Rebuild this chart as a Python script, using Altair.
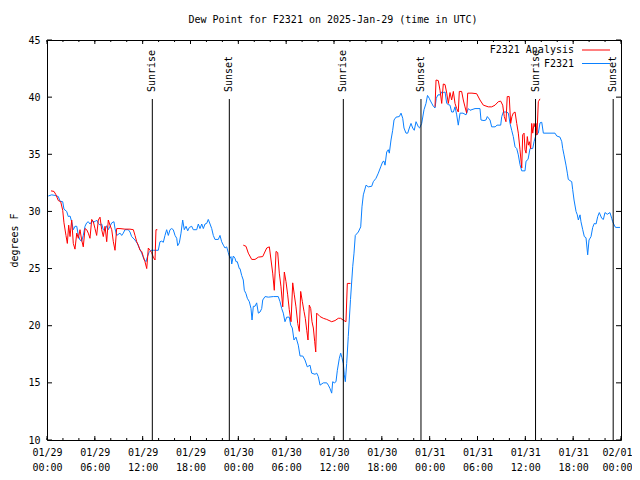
import altair as alt
import pandas as pd

# ---------------- data (hours since 2025-01-29 00:00 UTC, dew point in F) -------------
blue_series = [
    (0.16, 31.35), (0.59, 31.45), (1.0, 31.4), (1.42, 31.3), (1.63, 30.9), (1.97, 30.85),
    (2.13, 30.2), (2.47, 30.0), (2.67, 29.55), (2.89, 29.6), (3.10, 29.1), (3.30, 28.4),
    (3.51, 28.7), (3.73, 28.7), (3.93, 27.9), (4.14, 27.5), (4.35, 27.4), (4.55, 27.9),
    (4.77, 28.7), (4.98, 29.0), (5.18, 29.1), (5.39, 28.9), (5.61, 29.1), (6.02, 29.1),
    (6.23, 29.25), (6.44, 28.95), (6.65, 28.8), (6.86, 28.9), (7.06, 28.4), (7.28, 28.35),
    (7.49, 28.75), (7.69, 28.4), (7.90, 28.7), (8.12, 29.0), (8.40, 29.1), (8.53, 28.5),
    (8.74, 27.9), (9.16, 28.1), (9.37, 27.9), (9.57, 28.1), (9.78, 28.4), (10.20, 28.4),
    (10.41, 28.2), (10.62, 27.8), (11.04, 27.5), (11.33, 27.2), (11.58, 26.8), (11.88, 26.35),
    (12.17, 25.8), (12.42, 25.6), (12.58, 26.0), (12.79, 26.4), (13.05, 26.6), (13.33, 26.6),
    (13.96, 26.6), (14.17, 27.35), (14.39, 27.4), (14.59, 27.3), (14.80, 27.9), (15.01, 28.4),
    (15.22, 27.9), (15.43, 28.4), (15.64, 28.5), (15.84, 28.4), (16.06, 27.9), (16.27, 27.65),
    (16.39, 27.0), (16.60, 27.25), (16.81, 28.1), (17.02, 29.25), (17.22, 28.4), (17.44, 28.7),
    (17.65, 28.3), (17.85, 28.6), (18.15, 28.7), (18.35, 28.4), (18.78, 28.4), (18.98, 28.9),
    (19.19, 28.5), (19.41, 28.9), (19.61, 28.5), (19.82, 28.9), (20.03, 28.95), (20.23, 29.3),
    (20.45, 28.9), (20.66, 28.5), (20.86, 27.9), (21.07, 27.55), (21.49, 27.55), (21.70, 27.9),
    (21.91, 27.35), (22.12, 27.05), (22.33, 26.8), (22.54, 26.9), (22.74, 26.4), (22.96, 25.9),
    (23.08, 26.05), (23.17, 25.4), (23.37, 26.1), (23.58, 25.9), (23.71, 25.6), (23.87, 25.6),
    (24.12, 25.0), (24.21, 25.0), (24.42, 24.4), (24.62, 24.0), (24.75, 23.1), (24.96, 22.8),
    (25.13, 22.4), (25.38, 22.1), (25.59, 21.5), (25.72, 20.5), (25.88, 21.7), (26.09, 21.7),
    (26.30, 22.0), (26.51, 21.1), (26.72, 21.2), (26.93, 21.5), (27.06, 22.25), (27.35, 22.55),
    (27.76, 22.5), (28.39, 22.55), (29.01, 22.55), (29.23, 22.1), (29.44, 21.5), (29.64, 21.1),
    (29.85, 20.35), (30.07, 20.75), (30.39, 20.75), (30.57, 20.05), (30.77, 19.8), (30.98, 18.75),
    (31.23, 19.0), (31.52, 18.3), (31.74, 17.35), (32.08, 17.35), (32.36, 17.0), (32.65, 16.4),
    (32.99, 16.55), (33.20, 15.85), (33.62, 15.75), (33.83, 15.85), (34.03, 15.55), (34.25, 14.8),
    (34.66, 15.0), (35.09, 15.0), (35.29, 14.8), (35.50, 14.5), (35.71, 14.1), (35.84, 15.1),
    (36.04, 15.0), (36.25, 15.1), (36.42, 16.1), (36.67, 17.15), (36.84, 17.6), (37.00, 17.2),
    (37.17, 16.7), (37.29, 15.7), (37.42, 15.1), (37.59, 16.7), (37.79, 19.05), (38.07, 22.3),
    (38.35, 25.2), (38.51, 26.35), (38.67, 27.9), (39.05, 28.2), (39.35, 28.65), (39.51, 30.4),
    (39.68, 31.45), (40.02, 32.3), (40.30, 32.15), (40.73, 32.2), (40.93, 32.6), (41.27, 32.9),
    (41.56, 33.35), (41.86, 33.9), (42.11, 34.35), (42.27, 34.4), (42.40, 34.05), (42.61, 35.2),
    (42.81, 35.4), (42.94, 35.1), (43.15, 36.25), (43.36, 37.1), (43.53, 38.0), (43.78, 38.25),
    (44.19, 38.3), (44.41, 38.6), (44.62, 38.15), (44.78, 37.3), (45.03, 36.85), (45.25, 36.85),
    (45.45, 37.3), (45.66, 37.7), (45.87, 37.3), (46.07, 37.1), (46.29, 37.85), (46.58, 37.4),
    (46.73, 37.3), (47.00, 37.7), (47.29, 38.9), (47.54, 39.45), (47.73, 40.15), (47.95, 39.9),
    (48.04, 39.75), (48.46, 39.2), (48.67, 39.05), (48.83, 39.9), (49.04, 40.2), (49.30, 40.2),
    (49.51, 40.45), (49.71, 40.4), (49.93, 40.45), (50.14, 39.45), (50.34, 39.35), (50.55, 39.3),
    (50.76, 38.7), (50.97, 38.7), (51.18, 39.15), (51.39, 38.45), (51.59, 37.55), (51.81, 38.6),
    (52.18, 38.6), (52.56, 38.45), (52.85, 39.0), (53.06, 38.85), (53.69, 39.0), (54.31, 39.0),
    (54.44, 38.0), (54.81, 37.95), (55.06, 38.0), (55.23, 38.3), (55.57, 38.0), (55.78, 37.4),
    (56.21, 37.4), (56.45, 37.55), (56.91, 37.55), (57.04, 38.3), (57.24, 38.7), (57.66, 38.7),
    (57.87, 38.6), (58.08, 37.7), (58.29, 37.1), (58.49, 36.55), (58.71, 35.65), (58.92, 35.5),
    (59.12, 34.95), (59.33, 34.1), (59.55, 33.55), (59.96, 33.55), (60.09, 34.4), (60.34, 34.55),
    (60.59, 35.5), (60.93, 35.5), (61.09, 36.1), (61.34, 36.7), (61.63, 36.85), (61.84, 37.75),
    (62.06, 37.8), (62.26, 36.85), (62.97, 36.85), (63.72, 36.85), (63.94, 36.6), (64.35, 36.5),
    (64.57, 36.1), (64.69, 35.5), (64.85, 34.95), (65.10, 34.05), (65.27, 33.35), (65.39, 32.8),
    (65.60, 32.7), (65.82, 32.6), (65.94, 31.9), (66.11, 31.0), (66.36, 30.0), (66.52, 29.7),
    (66.65, 29.25), (66.86, 29.7), (66.98, 29.1), (67.20, 28.4), (67.40, 27.8), (67.61, 27.7),
    (67.82, 26.2), (67.99, 27.5), (68.24, 27.8), (68.45, 28.6), (68.65, 28.95), (68.87, 28.9),
    (69.08, 29.55), (69.28, 29.9), (69.58, 29.4), (69.79, 29.3), (69.99, 29.9), (70.28, 29.75),
    (70.62, 29.9), (70.83, 29.4), (70.96, 29.1), (71.25, 28.65), (71.38, 28.6), (71.88, 28.6),
]

red_segment_1 = [
    (0.50, 31.8), (0.88, 31.75), (1.13, 31.45), (1.42, 30.95), (1.72, 30.85), (1.97, 30.1),
    (2.13, 29.0), (2.38, 27.9), (2.55, 27.2), (2.72, 28.8), (2.89, 27.8), (3.10, 29.25),
    (3.30, 27.2), (3.51, 26.7), (3.73, 28.1), (3.93, 27.65), (4.14, 28.4), (4.35, 27.5),
    (4.55, 26.9), (4.77, 28.5), (4.98, 28.4), (5.18, 28.1), (5.39, 27.65), (5.61, 29.3),
    (5.81, 29.1), (6.02, 28.5), (6.23, 27.9), (6.44, 29.25), (6.65, 29.5), (6.86, 28.4),
    (7.06, 27.8), (7.28, 28.7), (7.49, 27.35), (7.69, 29.25), (7.90, 28.8), (8.12, 28.4),
    (8.32, 27.35), (8.53, 26.6), (8.74, 28.5), (9.16, 28.5), (9.78, 28.45), (10.41, 28.45),
    (10.83, 28.4), (11.04, 27.9), (11.25, 27.35), (11.45, 27.05), (11.67, 26.6), (11.88, 26.5),
    (12.08, 26.05), (12.29, 25.6), (12.51, 25.0), (12.71, 26.8), (12.92, 26.6), (13.13, 26.4),
    (13.33, 26.0), (13.55, 25.75), (13.67, 28.4), (13.84, 28.4),
]

red_segment_2 = [
    (24.62, 27.05), (24.96, 26.95), (25.25, 26.35), (25.68, 25.8), (26.09, 25.8), (26.51, 26.0),
    (27.06, 26.05), (27.56, 26.8), (27.89, 26.9), (28.10, 25.75), (28.31, 24.6), (28.51, 23.1),
    (28.73, 26.5), (28.94, 26.4), (29.14, 24.6), (29.35, 23.4), (29.57, 21.65), (29.77, 24.7),
    (29.98, 23.85), (30.19, 22.7), (30.39, 21.4), (30.61, 20.35), (30.82, 23.75), (31.02, 22.7),
    (31.23, 21.65), (31.45, 20.2), (31.65, 19.5), (31.82, 23.0), (32.03, 22.1), (32.24, 21.25),
    (32.40, 20.65), (32.58, 19.6), (32.74, 18.75), (32.90, 21.8), (33.08, 21.5), (33.24, 20.35),
    (33.41, 19.8), (33.58, 18.6), (33.71, 17.7), (33.83, 21.1), (34.25, 20.8), (34.66, 20.65),
    (35.09, 20.55), (35.71, 20.35), (36.13, 20.45), (36.54, 20.65), (36.84, 20.65), (37.13, 20.5),
    (37.50, 20.35), (37.67, 23.7), (38.07, 23.7),
]

red_segment_3 = [
    (48.67, 39.15), (48.80, 41.5), (49.08, 41.45), (49.30, 40.6), (49.51, 39.45), (49.71, 41.15),
    (49.93, 41.1), (50.14, 40.35), (50.34, 39.45), (50.55, 40.4), (50.76, 39.75), (50.97, 40.5),
    (51.18, 39.45), (51.39, 39.0), (51.59, 38.7), (51.72, 40.5), (52.01, 40.5), (52.22, 39.75),
    (52.43, 39.15), (52.64, 38.6), (52.77, 40.35), (53.31, 40.35), (53.90, 40.3), (54.31, 39.75),
    (54.73, 39.3), (55.36, 39.15), (55.78, 39.15), (56.20, 39.3), (56.61, 39.6), (56.91, 39.65),
    (57.16, 39.3), (57.36, 38.3), (57.57, 37.85), (57.73, 40.05), (57.98, 40.05), (58.16, 37.7),
    (58.32, 38.3), (58.49, 38.6), (58.71, 38.7), (58.92, 37.7), (59.12, 36.85), (59.33, 35.4),
    (59.55, 33.8), (59.67, 36.7), (59.84, 36.85), (59.96, 35.4), (60.09, 35.1), (60.25, 36.55),
    (60.38, 35.8), (60.50, 36.1), (60.67, 35.5), (60.80, 37.7), (60.93, 36.85), (61.09, 37.7),
    (61.21, 37.4), (61.34, 37.7), (61.46, 36.7), (61.63, 39.6), (61.84, 39.85),
]

sun_event_hours = [13.21, 22.87, 37.17, 46.91, 61.28, 71.02]
sun_event_labels = ["Sunrise", "Sunset", "Sunrise", "Sunset", "Sunrise", "Sunset"]

x_tick_hours = [0, 6, 12, 18, 24, 30, 36, 42, 48, 54, 60, 66, 72]
x_tick_labels = [
    ("01/29", "00:00"), ("01/29", "06:00"), ("01/29", "12:00"), ("01/29", "18:00"),
    ("01/30", "00:00"), ("01/30", "06:00"), ("01/30", "12:00"), ("01/30", "18:00"),
    ("01/31", "00:00"), ("01/31", "06:00"), ("01/31", "12:00"), ("01/31", "18:00"),
    ("02/01", "00:00"),
]
x_minor_hours = list(range(0, 73, 2))
y_tick_values = [10, 15, 20, 25, 30, 35, 40, 45]

title_text = "Dew Point for F2321 on 2025-Jan-29 (time in UTC)"
series_names = ["F2321 Analysis", "F2321"]
series_colors = ["#ff0000", "#0a80ff"]

# ---------------- tables ----------------
blue_df = pd.DataFrame(blue_series, columns=["h", "v"])
red_rows = []
for seg_id, seg in enumerate([red_segment_1, red_segment_2, red_segment_3]):
    for h, v in seg:
        red_rows.append({"h": h, "v": v, "seg": seg_id})
red_df = pd.DataFrame(red_rows)
sun_df = pd.DataFrame({"h": sun_event_hours, "label": sun_event_labels})
major_df = pd.DataFrame({"h": x_tick_hours})
minor_df = pd.DataFrame({"h": x_minor_hours})
ytick_df = pd.DataFrame({"v": y_tick_values})

W, H = 574, 400
FONT = "DejaVu Sans Mono"

x_scale = alt.Scale(domain=[0, 72], nice=False, zero=False)
y_scale = alt.Scale(domain=[10, 45], nice=False, zero=False)

label_array = "[" + ",".join("['%s','%s']" % (a, b) for a, b in x_tick_labels) + "]"
label_expr = label_array + "[round(datum.value/6)]"

x_axis = alt.Axis(
    values=x_tick_hours, labelExpr=label_expr, ticks=False, domain=False, grid=False,
    title=None, labelFont=FONT, labelFontSize=10, labelColor="black",
    labelBaseline="top", labelPadding=7, labelLineHeight=15, labelOverlap=False,
    labelFlush=False, labelBound=False, labelAlign="center",
    labelOffset=alt.condition("datum.value >= 72", alt.value(-4), alt.value(0)),
)
y_axis = alt.Axis(
    values=y_tick_values, ticks=False, domain=False, grid=False, title="degrees F",
    titleX=-33, titleY=200, titleAngle=270, titleAlign="center", titleBaseline="middle",
    titleFont=FONT, titleFontSize=10, titleFontWeight="normal", titleColor="black",
    labelFont=FONT, labelFontSize=10, labelColor="black", labelPadding=7,
    labelBaseline="middle",
)

blue = alt.Chart(blue_df).mark_line(color=series_colors[1], strokeWidth=1, clip=True).encode(
    x=alt.X("h:Q", scale=x_scale, axis=x_axis),
    y=alt.Y("v:Q", scale=y_scale, axis=y_axis),
)
red = alt.Chart(red_df).mark_line(color=series_colors[0], strokeWidth=1, clip=True).encode(
    x=alt.X("h:Q", scale=x_scale),
    y=alt.Y("v:Q", scale=y_scale),
    detail="seg:N",
)

sun_rules = alt.Chart(sun_df).mark_rule(color="black", strokeWidth=1).encode(
    x=alt.X("h:Q", scale=x_scale), y=alt.value(59), y2=alt.value(H)
)
sun_text = alt.Chart(sun_df).mark_text(
    angle=270, align="left", baseline="middle", font=FONT, fontSize=10, color="black"
).encode(x=alt.X("h:Q", scale=x_scale), y=alt.value(52), text="label:N")

def xticks(df, y0, y1):
    return alt.Chart(df).mark_rule(color="black", strokeWidth=1).encode(
        x=alt.X("h:Q", scale=x_scale), y=alt.value(y0), y2=alt.value(y1)
    )

def yticks(x0, x1):
    return alt.Chart(ytick_df).mark_rule(color="black", strokeWidth=1).encode(
        y=alt.Y("v:Q", scale=y_scale), x=alt.value(x0), x2=alt.value(x1)
    )

ticks = [
    xticks(major_df, H, H - 4), xticks(minor_df, H, H - 2),
    xticks(major_df, 0, 4), xticks(minor_df, 0, 2),
    yticks(0, 5), yticks(W, W - 5),
]

title_mark = alt.Chart(pd.DataFrame({"t": [title_text]})).mark_text(
    align="center", baseline="middle", font=FONT, fontSize=10, color="black"
).encode(text="t:N", x=alt.value(W / 2 - 1), y=alt.value(-20))

legend_parts = []
for i, (name, col) in enumerate(zip(series_names, series_colors)):
    ly = 10 + 13.5 * i
    legend_parts.append(
        alt.Chart(pd.DataFrame({"t": [name]})).mark_text(
            align="right", baseline="middle", font=FONT, fontSize=10, color="black"
        ).encode(text="t:N", x=alt.value(527), y=alt.value(ly))
    )
    legend_parts.append(
        alt.Chart(pd.DataFrame({"t": [name]})).mark_rule(color=col, strokeWidth=1).encode(
            x=alt.value(535), x2=alt.value(563), y=alt.value(ly)
        )
    )

chart = alt.layer(blue, red, sun_rules, sun_text, *ticks, title_mark, *legend_parts).properties(
    width=W,
    height=H,
    padding={"left": 39, "top": 32, "right": 11, "bottom": 32},
    autosize=alt.AutoSizeParams(type="none"),
    background="white",
).configure_view(stroke="black", strokeWidth=1)

chart.save("out.html", embed_options={"renderer": "svg", "actions": False})
